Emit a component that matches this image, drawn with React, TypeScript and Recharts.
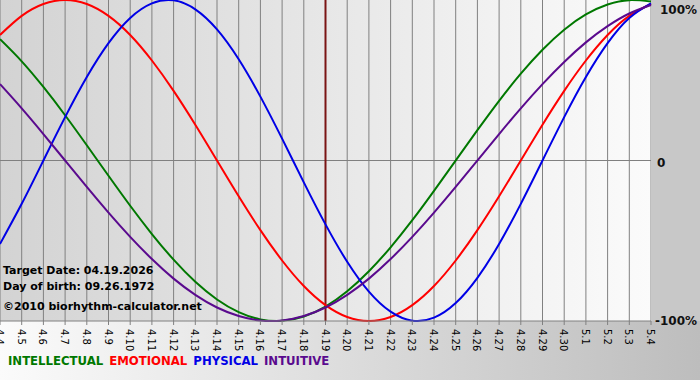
import {
    CartesianGrid,
    Line,
    LineChart,
    ReferenceLine,
    XAxis,
    YAxis,
} from "recharts";

const dayLabels = [
    "4.4", "4.5", "4.6", "4.7", "4.8", "4.9", "4.10", "4.11", "4.12", "4.13",
    "4.14", "4.15", "4.16", "4.17", "4.18", "4.19", "4.20", "4.21", "4.22", "4.23",
    "4.24", "4.25", "4.26", "4.27", "4.28", "4.29", "4.30", "5.1", "5.2", "5.3", "5.4",
];

const physical = [
    -0.52, -0.27, 0, 0.27, 0.52, 0.731, 0.888, 0.979, 0.998, 0.942,
    0.817, 0.631, 0.398, 0.136, -0.136, -0.398, -0.631, -0.817, -0.942, -0.998,
    -0.979, -0.888, -0.731, -0.52, -0.27, 0, 0.27, 0.52, 0.731, 0.888, 0.979,
];

const emotional = [
    0.782, 0.901, 0.975, 1, 0.975, 0.901, 0.782, 0.623, 0.434, 0.223,
    0, -0.223, -0.434, -0.623, -0.782, -0.901, -0.975, -1, -0.975, -0.901,
    -0.782, -0.623, -0.434, -0.223, 0, 0.223, 0.434, 0.623, 0.782, 0.901, 0.975,
];

const intellectual = [
    0.756, 0.618, 0.458, 0.282, 0.095, -0.095, -0.282, -0.458, -0.618, -0.756,
    -0.866, -0.945, -0.99, -0.999, -0.972, -0.91, -0.815, -0.69, -0.541, -0.372,
    -0.189, 0, 0.189, 0.372, 0.541, 0.69, 0.815, 0.91, 0.972, 0.999, 0.99,
];

const intuitive = [
    0.476, 0.325, 0.165, 0, -0.165, -0.325, -0.476, -0.614, -0.736, -0.837,
    -0.916, -0.969, -0.997, -0.997, -0.969, -0.916, -0.837, -0.736, -0.614, -0.476,
    -0.325, -0.165, 0, 0.165, 0.325, 0.476, 0.614, 0.736, 0.837, 0.916, 0.969,
];

const yTickLabels: Record<string, string> = { "1": "100%", "0": "0", "-1": "-100%" };

const series = [
    { key: "intellectual", name: "INTELLECTUAL", color: "#007800" },
    { key: "emotional", name: "EMOTIONAL", color: "#ff0000" },
    { key: "physical", name: "PHYSICAL", color: "#0000e6" },
    { key: "intuitive", name: "INTUITIVE", color: "#5a0a8e" },
];

const data = dayLabels.map((label, i) => ({
    i,
    label,
    physical: physical[i],
    emotional: emotional[i],
    intellectual: intellectual[i],
    intuitive: intuitive[i],
}));

const font = "'DejaVu Sans', Verdana, sans-serif";

function DayTick({ x, y, payload }: any) {
    return (
        <text
            transform={`translate(${x - 4},${y + 2}) rotate(90)`}
            textAnchor="start"
            fontFamily={font}
            fontSize={10}
            fill="#000"
        >
            {dayLabels[payload.value]}
        </text>
    );
}

function PercentTick({ y, payload }: any) {
    const v = payload.value;
    const shift = v === 1 ? 10 : v === 0 ? 2 : 0;
    const left = v === 1 ? 660 : v === 0 ? 657 : 655;
    return (
        <text
            x={left}
            y={y + shift}
            dy="0.35em"
            textAnchor="start"
            fontFamily={font}
            fontWeight="bold"
            fontSize={12}
            fill="#111"
        >
            {yTickLabels[String(v)]}
        </text>
    );
}

export default function App() {
    return (
        <div
            style={{
                position: "absolute",
                left: 0,
                top: 0,
                width: 700,
                height: 380,
                background: "linear-gradient(to right, #fbfbfb, #bdbdbd)",
                overflow: "hidden",
            }}
        >
            <LineChart
                width={700}
                height={380}
                data={data}
                margin={{ top: 0, right: 0, left: 0, bottom: 11 }}
            >
                <defs>
                    <linearGradient id="plotBg" x1="0" y1="0" x2="1" y2="0">
                        <stop offset="0%" stopColor="#d3d3d3" />
                        <stop offset="100%" stopColor="#fbfbfb" />
                    </linearGradient>
                </defs>
                <rect x={651} y={0} width={49} height={321} fill="#c8c8c8" />
                <CartesianGrid
                    horizontal={false}
                    stroke="#808080"
                    strokeOpacity={1}
                    fill="url(#plotBg)"
                    fillOpacity={1}
                />
                <XAxis
                    dataKey="i"
                    type="number"
                    domain={[0, 30]}
                    ticks={data.map((d) => d.i)}
                    interval={0}
                    height={48}
                    tickSize={4}
                    tickLine={{ stroke: "#808080" }}
                    axisLine={{ stroke: "#808080" }}
                    tick={<DayTick />}
                />
                <YAxis
                    orientation="right"
                    type="number"
                    domain={[-1, 1]}
                    ticks={[1, 0, -1]}
                    interval={0}
                    width={49}
                    axisLine={false}
                    tickLine={false}
                    tick={<PercentTick />}
                />
                <ReferenceLine y={0} stroke="#808080" />
                <ReferenceLine x={15} stroke="#7a1414" strokeWidth={2} />
                {series.map((s) => (
                    <Line
                        key={s.key}
                        type="natural"
                        dataKey={s.key}
                        name={s.name}
                        stroke={s.color}
                        strokeWidth={2}
                        dot={false}
                        activeDot={false}
                        isAnimationActive={false}
                    />
                ))}
                <text x={3} y={274} fontFamily={font} fontWeight="bold" fontSize={11} fill="#000">
                    Target Date: 04.19.2026
                </text>
                <text x={3} y={290} fontFamily={font} fontWeight="bold" fontSize={11} fill="#000">
                    Day of birth: 09.26.1972
                </text>
                <text x={3} y={310} fontFamily={font} fontWeight="bold" fontSize={11} fill="#000">
                    ©2010 biorhythm-calculator.net
                </text>
            </LineChart>
            <div
                style={{
                    position: "absolute",
                    left: 8,
                    top: 353,
                    fontFamily: "'DejaVu Sans Condensed', 'DejaVu Sans', sans-serif",
                    fontWeight: "bold",
                    fontSize: 13,
                    whiteSpace: "nowrap",
                }}
            >
                {series.map((s) => (
                    <span key={s.key} style={{ color: s.color, marginRight: 6 }}>
                        {s.name}
                    </span>
                ))}
            </div>
        </div>
    );
}
